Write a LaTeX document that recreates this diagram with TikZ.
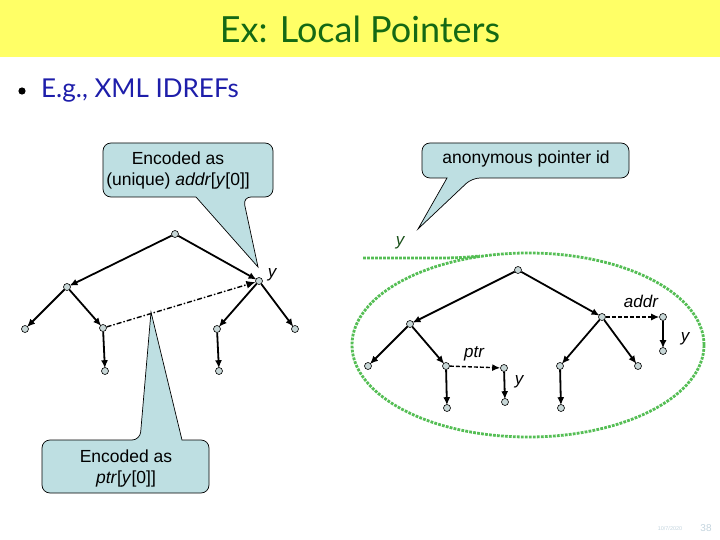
\documentclass[tikz,border=0pt]{standalone}
\usepackage{fontspec}
\setmainfont{Liberation Sans}
\newfontfamily\titlefont{Lato}
\usetikzlibrary{arrows.meta}
\definecolor{titlebg}{RGB}{255,255,102}
\definecolor{titlefg}{RGB}{20,105,20}
\definecolor{bulletfg}{RGB}{30,30,170}
\definecolor{callfill}{RGB}{190,223,226}
\definecolor{nodefill}{RGB}{200,215,215}
\definecolor{ellgreen}{RGB}{85,190,85}
\definecolor{ydark}{RGB}{25,80,25}
\definecolor{footfg}{RGB}{195,212,222}
\tikzset{
  tn/.style={circle,draw,line width=0.6pt,fill=nodefill,inner sep=0pt,minimum size=7pt},
  edge/.style={line width=1.8pt,-{Latex[length=8pt,width=7pt]},shorten >=-1pt},
  ptredge/.style={line width=1.4pt,dashed,dash pattern=on 4pt off 2pt,-{Latex[length=8pt,width=7pt]}},
  dotedge/.style={line width=1.4pt,dash pattern=on 5pt off 2pt on 1.5pt off 2pt,-{Latex[length=9pt,width=8pt]}},
  callout/.style={draw,line width=0.7pt,fill=callfill},
  lbl/.style={font=\fontsize{17}{20}\selectfont\itshape,inner sep=0pt},
  ctext/.style={font=\fontsize{17.5}{21}\selectfont,align=center,inner sep=0pt},
  green dots/.style={draw=ellgreen,line width=2.8pt,dash pattern=on 2.8pt off 1.2pt}
}
\begin{document}
\begin{tikzpicture}[x=1pt,y=-1pt]
\useasboundingbox (0,0) rectangle (720,540);
% title bar
\fill[titlebg] (0,0) rectangle (720,57);
\node[text=titlefg,font=\titlefont\fontsize{36}{40}\selectfont] (title) at (360,29) {Ex: Local Pointers};
% bullet
\fill (22,91) circle (3.6);
\node[anchor=west,text=bulletfg,font=\titlefont\fontsize{26}{30}\selectfont,inner sep=0pt] (bul) at (41,91) {E.g., XML IDREFs};

% green ellipse and line
\draw[green dots] (528,345) ellipse (176 and 92);
\draw[green dots] (363,258) -- (440,258) to[out=0,in=185] (480,256);
\node[lbl,text=ydark] (ytop) at (400,243) {y};

% callout 1
\draw[callout] (103,170) [rounded corners=8pt] -- (103,143) -- (273,143) -- (273,197) -- (243,197) [sharp corners] -- (258,267) -- (196,197) [rounded corners=8pt] -- (103,197) -- cycle;
\node[ctext] (c1) at (178,170) {Encoded as\\(unique) \textit{addr}[\textit{y}[0]]};
% callout 2
\draw[callout] (422,160) [rounded corners=8pt] -- (422,143) -- (629,143) -- (629,178) -- (472,178) [sharp corners] -- (418,229) -- (447,178) [rounded corners=8pt] -- (422,178) -- cycle;
\node[ctext] (c2) at (526,159) {anonymous pointer id};

% left tree
\node[tn] (a) at (175,234) {};
\node[tn] (aL) at (67,287) {};
\node[tn] (aR) at (259,281) {};
\node[tn] (aLL) at (25,329) {};
\node[tn] (aLR) at (103,328) {};
\node[tn] (aLRc) at (105,371) {};
\node[tn] (aRL) at (217,329) {};
\node[tn] (aRR) at (295,329) {};
\node[tn] (aRLc) at (219,371) {};
\draw[edge] (a) -- (aL);
\draw[edge] (a) -- (aR);
\draw[edge] (aL) -- (aLL);
\draw[edge] (aL) -- (aLR);
\draw[edge] (aLR) -- (aLRc);
\draw[edge] (aR) -- (aRL);
\draw[edge] (aR) -- (aRR);
\draw[edge] (aRL) -- (aRLc);
\draw[dotedge] (aLR) -- (aR);
\node[lbl] (yL) at (272,275) {y};

% callout 3
\draw[callout] (42,465) [rounded corners=8pt] -- (42,440) -- (140,440) [sharp corners] -- (151,312) -- (182,440) [rounded corners=8pt] -- (209,440) -- (209,493) -- (42,493) -- cycle;
\node[ctext] (c3) at (126,468) {Encoded as\\\textit{ptr}[\textit{y}[0]]};

% right tree
\node[tn] (b) at (518,270) {};
\node[tn] (bL) at (410,324) {};
\node[tn] (bR) at (602,317) {};
\node[tn] (bA) at (663,317) {};
\node[tn] (bAy) at (663,351) {};
\node[tn] (bLL) at (368,366) {};
\node[tn] (bLR) at (446,366) {};
\node[tn] (bLRc) at (447,408) {};
\node[tn] (bP) at (504,368) {};
\node[tn] (bPy) at (505,402) {};
\node[tn] (bRL) at (560,366) {};
\node[tn] (bRLc) at (561,408) {};
\node[tn] (bRR) at (638,366) {};
\draw[edge] (b) -- (bL);
\draw[edge] (b) -- (bR);
\draw[edge] (bL) -- (bLL);
\draw[edge] (bL) -- (bLR);
\draw[edge] (bLR) -- (bLRc);
\draw[edge] (bR) -- (bRL);
\draw[edge] (bR) -- (bRR);
\draw[edge] (bRL) -- (bRLc);
\draw[edge] (bA) -- (bAy);
\draw[edge] (bP) -- (bPy);
\draw[ptredge] (bLR) -- (bP);
\draw[ptredge] (bR) -- (bA);
\node[lbl] (laddr) at (641,301) {addr};
\node[lbl] (ly1) at (685,339) {y};
\node[lbl] (lptr) at (474,354) {ptr};
\node[lbl] (ly2) at (519,382) {y};

% footer
\node[text=footfg,font=\fontsize{5.5}{6}\selectfont,inner sep=0pt] (date) at (670,529) {10/7/2020};
\node[text=footfg,font=\fontsize{10}{12}\selectfont,inner sep=0pt] (pg) at (706,528) {38};
\end{tikzpicture}
\end{document}
